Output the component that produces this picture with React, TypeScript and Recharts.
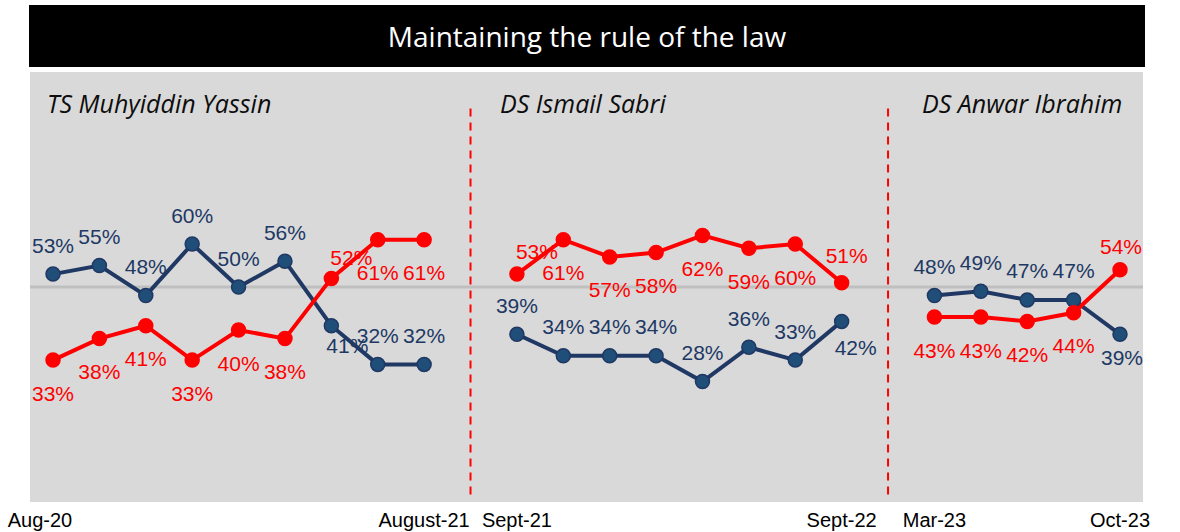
import React from 'react'
import {
  LineChart,
  Line,
  XAxis,
  YAxis,
  CartesianGrid,
  ReferenceLine,
} from 'recharts'

const NAVY = '#203864'
const NAVY_DOT = '#1F4E79'
const RED = '#FF0000'

// one entry per government period
const leaders = ['TS Muhyiddin Yassin', 'DS Ismail Sabri', 'DS Anwar Ibrahim']
const periodEnds = [
  ['Aug-20', 'August-21'],
  ['Sept-21', 'Sept-22'],
  ['Mar-23', 'Oct-23'],
]
const navyShare = [
  [53, 55, 48, 60, 50, 56, 41, 32, 32],
  [39, 34, 34, 34, 28, 36, 33, 42],
  [48, 49, 47, 47, 39],
]
const redShare = [
  [33, 38, 41, 33, 40, 38, 52, 61, 61],
  [53, 61, 57, 58, 62, 59, 60, 51],
  [43, 43, 42, 44, 54],
]

type Row = { i: number; tick: string; navy: number | null; red: number | null }

// flatten the periods into one axis, with an empty slot between them
const rows: Row[] = []
const gapKeys: number[] = []
navyShare.forEach((vals, s) => {
  if (s > 0) {
    gapKeys.push(rows.length)
    rows.push({ i: rows.length, tick: '', navy: null, red: null })
  }
  vals.forEach((v, k) => {
    const tick = k === 0 ? periodEnds[s][0] : k === vals.length - 1 ? periodEnds[s][1] : ''
    rows.push({ i: rows.length, tick, navy: v, red: redShare[s][k] })
  })
})

// label nudges where Excel moved labels by hand (row index -> dx, dy)
const navyNudge: Record<number, [number, number]> = { 6: [16, 20], 17: [14, 26], 23: [2, 23] }
const redNudge: Record<number, [number, number]> = { 6: [20, -21], 10: [20, -23], 17: [5, -27], 23: [1, -23] }

function makeLabel(color: string, nudge: Record<number, [number, number]>, defaultDy: number) {
  return (props: any) => {
    const { x, y, value, index } = props
    if (value == null) return null
    const [dx, dy] = nudge[index] ?? [0, defaultDy]
    return (
      <text
        x={x + dx}
        y={y + dy}
        fill={color}
        fontSize={21}
        fontFamily="'Liberation Sans', Arial, sans-serif"
        textAnchor="middle"
        dominantBaseline="central"
      >
        {value}%
      </text>
    )
  }
}

function AxisTick(props: any) {
  const { x, y, payload, index } = props
  const label = rows[payload.value]?.tick
  if (!label) return null
  return (
    <text
      x={x + (index === 0 ? -13 : 0)}
      y={y}
      dy={17}
      fill="#000"
      fontSize={20}
      fontFamily="'Liberation Sans', Arial, sans-serif"
      textAnchor="middle"
    >
      {label}
    </text>
  )
}

const leaderX = [47, 500, 922]

export default function App() {
  return (
    <div style={{ position: 'absolute', left: 0, top: 0, width: 1180, height: 532, background: '#fff' }}>
      <LineChart
        width={1180}
        height={532}
        data={rows}
        margin={{ top: 72, left: 30, right: 37, bottom: 0 }}
      >
        <CartesianGrid fill="#D9D9D9" stroke="none" horizontal={false} vertical={false} />
        <XAxis
          dataKey="i"
          type="category"
          interval={0}
          height={30}
          padding={{ left: 23, right: 23 }}
          axisLine={false}
          tickLine={false}
          tick={<AxisTick />}
        />
        <YAxis hide domain={[0, 100]} />
        <ReferenceLine y={50} stroke="#BFBFBF" strokeWidth={3} />
        {gapKeys.map(k => (
          <ReferenceLine
            key={k}
            segment={[{ x: k, y: 91.5 }, { x: k, y: 1.5 }]}
            stroke={RED}
            strokeWidth={2}
            strokeDasharray="8 6"
          />
        ))}
        <Line
          dataKey="navy"
          stroke={NAVY}
          strokeWidth={4}
          dot={{ r: 7, fill: NAVY_DOT, stroke: NAVY, strokeWidth: 1.5 }}
          label={makeLabel(NAVY, navyNudge, -29)}
          isAnimationActive={false}
        />
        <Line
          dataKey="red"
          stroke={RED}
          strokeWidth={4}
          dot={{ r: 7, fill: RED, stroke: RED, strokeWidth: 1.5 }}
          label={makeLabel(RED, redNudge, 33)}
          isAnimationActive={false}
        />
      </LineChart>
      <div
        style={{
          position: 'absolute',
          left: 29,
          top: 5,
          width: 1116,
          height: 62,
          background: '#000',
          color: '#fff',
          fontFamily: "'Open Sans', sans-serif",
          fontSize: 28,
          lineHeight: '62px',
          textAlign: 'center',
        }}
      >
        Maintaining the rule of the law
      </div>
      {leaders.map((name, s) => (
        <div
          key={name}
          style={{
            position: 'absolute',
            left: leaderX[s],
            top: 87,
            lineHeight: '32px',
            fontFamily: "'Open Sans', sans-serif",
            fontStyle: 'italic',
            fontSize: 25,
            color: '#0D0D0D',
            whiteSpace: 'nowrap',
          }}
        >
          {name}
        </div>
      ))}
    </div>
  )
}
